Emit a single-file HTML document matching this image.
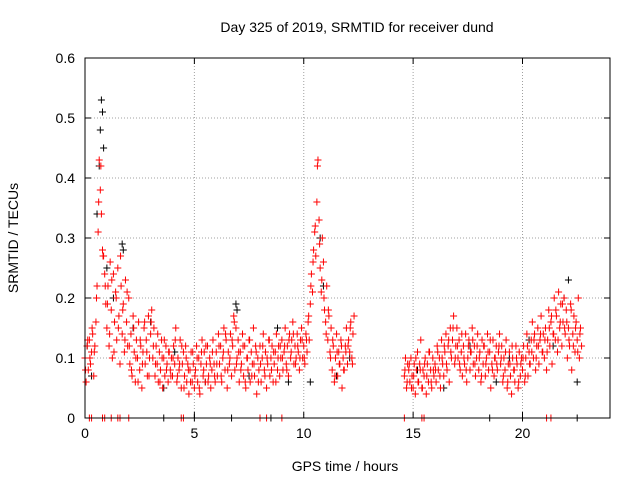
<!DOCTYPE html>
<html><head><meta charset="utf-8"><style>
body{margin:0;background:#fff}
svg{display:block;font-family:"Liberation Sans",sans-serif}
</style></head><body>
<svg id="chart" width="640" height="480" viewBox="0 0 640 480">
<rect x="0" y="0" width="640" height="480" fill="#fff"/>
<text x="357" y="32" font-size="14" text-anchor="middle">Day 325 of 2019, SRMTID for receiver dund</text>
<text x="18" y="238" font-size="14" text-anchor="middle" transform="rotate(-90 18 238)">SRMTID / TECUs</text>
<text x="345" y="471" font-size="14" text-anchor="middle">GPS time / hours</text>
<g id="grid"></g>
<g id="ticks"></g>
<g id="black"></g>
<g id="red"></g>
<rect x="85" y="58" width="525" height="360" fill="none" stroke="#000" stroke-width="1"/>
</svg>
<script>
const xTicks=[0,5,10,15,20];
const yTicks=[0,0.1,0.2,0.3,0.4,0.5,0.6];
const yTickLabels=["0","0.1","0.2","0.3","0.4","0.5","0.6"];
const segAStart=0, segBStart=14.6, stepH=0.05;
const segA2Start=0.025, segB2Start=14.625, step2H=0.1;
const redA=[0.10,0.06,0.12,0.08,0.13,0.09,0.11,0.14,0.07,0.12,
0.16,0.22,0.31,0.43,0.38,0.34,0.28,0.27,0.24,0.19,
0.15,0.22,0.12,0.26,0.18,0.10,0.24,0.16,0.21,0.13,0.25,0.17,0.09,0.22,0.14,0.19,0.11,0.23,0.16,0.12,
0.20,0.09,0.14,0.07,0.17,0.11,0.06,0.13,0.10,0.16,0.08,0.12,0.05,0.11,0.15,0.09,0.13,0.07,0.17,0.10,
0.14,0.18,0.10,0.15,0.07,0.12,0.09,0.06,0.11,0.08,0.13,0.05,0.10,0.07,0.12,0.09,0.06,0.11,0.08,0.10,
0.07,0.12,0.09,0.15,0.06,0.10,0.08,0.13,0.05,0.09,0.11,0.07,0.12,0.06,0.09,0.04,0.08,0.11,0.06,0.09,
0.05,0.08,0.12,0.06,0.10,0.04,0.09,0.13,0.07,0.11,0.06,0.09,0.12,0.07,0.10,0.05,0.08,0.13,0.09,0.06,
0.11,0.07,0.14,0.09,0.12,0.06,0.10,0.15,0.08,0.13,0.05,0.11,0.09,0.14,0.07,0.12,0.17,0.08,0.15,0.10,
0.13,0.06,0.11,0.09,0.14,0.07,0.12,0.05,0.10,0.08,0.13,0.06,0.11,0.09,0.15,0.07,0.12,0.04,0.10,0.08,
0.12,0.06,0.10,0.14,0.08,0.11,0.05,0.09,0.13,0.07,0.10,0.12,0.06,0.09,0.11,0.14,0.08,0.12,0.07,0.10,
0.13,0.08,0.11,0.15,0.09,0.12,0.07,0.14,0.10,0.13,0.16,0.09,0.12,0.10,0.14,0.11,0.08,0.13,0.15,0.10,
0.12,0.09,0.14,0.11,0.16,0.13,0.19,0.24,0.21,0.28,0.31,0.27,0.36,0.43,0.33,0.25,0.21,0.30,0.26,0.18,
0.16,0.22,0.13,0.17,0.11,0.15,0.08,0.12,0.06,0.10,0.14,0.07,0.11,0.09,0.13,0.05,0.10,0.08,0.12,0.15,
0.09,0.13,0.11,0.16,0.10,0.14,0.17];
const redB=[0.07,0.10,0.05,0.09,0.08,0.06,0.10,0.07,
0.05,0.09,0.04,0.08,0.11,0.06,0.09,0.13,0.05,0.08,0.07,0.10,0.04,0.09,0.06,0.11,0.08,0.05,0.10,0.07,
0.09,0.06,0.12,0.08,0.10,0.05,0.13,0.09,0.07,0.11,0.14,0.08,0.12,0.06,0.15,0.10,0.13,0.17,0.09,0.12,
0.15,0.10,0.13,0.08,0.11,0.07,0.12,0.09,0.14,0.06,0.10,0.13,0.08,0.11,0.15,0.09,0.12,0.07,0.10,0.14,
0.08,0.11,0.06,0.13,0.09,0.12,0.07,0.10,0.14,0.08,0.11,0.05,0.09,0.13,0.07,0.10,0.12,0.08,0.11,0.14,
0.09,0.12,0.06,0.10,0.08,0.13,0.05,0.09,0.11,0.07,0.04,0.10,0.08,0.06,0.12,0.09,0.05,0.11,0.07,0.10,
0.08,0.12,0.06,0.10,0.14,0.07,0.11,0.09,0.13,0.16,0.10,0.14,0.08,0.12,0.15,0.09,0.13,0.17,0.11,0.14,
0.10,0.15,0.08,0.13,0.18,0.12,0.16,0.09,0.14,0.20,0.13,0.17,0.11,0.21,0.15,0.19,0.12,0.16,0.20,0.14,
0.18,0.10,0.15,0.12,0.19,0.08,0.14,0.17,0.11,0.16,0.13,0.20,0.10,0.15,0.12];
const redA2=[0.08,0.13,0.10,0.15,0.11,0.20,0.36,0.42,0.27,0.22,
0.19,0.14,0.23,0.11,0.20,0.15,0.27,0.18,0.13,0.21,
0.12,0.08,0.15,0.10,0.06,0.13,0.09,0.16,0.11,0.07,
0.16,0.12,0.09,0.14,0.06,0.10,0.13,0.08,0.11,0.07,
0.10,0.13,0.07,0.09,0.12,0.05,0.10,0.08,0.06,0.11,
0.07,0.10,0.05,0.11,0.08,0.12,0.06,0.09,0.11,0.07,
0.09,0.12,0.07,0.11,0.14,0.08,0.10,0.13,0.16,0.09,
0.11,0.08,0.12,0.06,0.10,0.13,0.07,0.09,0.11,0.06,
0.09,0.12,0.07,0.10,0.13,0.08,0.11,0.06,0.10,0.12,
0.10,0.12,0.08,0.13,0.11,0.14,0.09,0.12,0.10,0.13,
0.10,0.13,0.17,0.22,0.26,0.32,0.42,0.29,0.23,0.20,
0.14,0.18,0.10,0.13,0.07,0.11,0.09,0.12,0.08,0.11,
0.12,0.15,0.09];
const redB2=[0.08,0.06,0.09,0.05,
0.07,0.10,0.06,0.08,0.05,0.09,0.07,0.11,0.06,0.08,
0.08,0.11,0.07,0.10,0.12,0.09,0.13,0.11,0.15,0.10,
0.12,0.09,0.14,0.10,0.08,0.12,0.11,0.13,0.09,0.12,
0.10,0.07,0.12,0.09,0.11,0.13,0.08,0.10,0.09,0.12,
0.10,0.07,0.11,0.06,0.09,0.12,0.08,0.10,0.06,0.09,
0.10,0.07,0.12,0.09,0.11,0.13,0.10,0.12,0.14,0.11,
0.13,0.11,0.15,0.17,0.14,0.18,0.13,0.16,0.19,0.15,
0.16,0.13,0.18,0.12,0.15,0.11,0.14];
const blackT=[0.1,0.3,0.55,0.65,0.7,0.75,0.8,0.85,1.0,1.3,1.7,1.75,2.2,3.0,3.6,4.1,5.5,6.9,6.95,7.5,8.8,9.3,10.3,10.75,10.9,11.5,12.1,15.2,16.4,17.6,18.8,19.4,20.3,21.4,21.9,22.1,22.5];
const blackV=[0.12,0.07,0.34,0.42,0.48,0.53,0.51,0.45,0.25,0.20,0.29,0.28,0.15,0.16,0.05,0.11,0.06,0.19,0.18,0.07,0.15,0.06,0.06,0.30,0.22,0.07,0.10,0.08,0.05,0.12,0.06,0.10,0.13,0.12,0.20,0.23,0.06];
const redZeroT=[0.2,0.3,0.8,0.9,1.2,1.5,1.6,2.0,4.4,4.5,8.0,8.3,9.0,14.6,15.4,15.5,21.1,21.3];
const blackZeroT=[3.6,5.0,6.7,8.5,18.5,20.0,22.5];

const X0=85,X1=610,Y0=418,Y1=58;
const xs=t=>X0+t/24*(X1-X0);
const ys=v=>Y0-v/0.6*(Y0-Y1);
const NS="http://www.w3.org/2000/svg";
function mk(tag,attrs,parent){const e=document.createElementNS(NS,tag);for(const k in attrs)e.setAttribute(k,attrs[k]);parent.appendChild(e);return e;}
const grid=document.getElementById('grid'),ticks=document.getElementById('ticks');
xTicks.forEach(t=>{const x=xs(t);
 if(t>0){const g=mk('line',{x1:x,y1:Y0,x2:x,y2:Y1,stroke:'#a0a0a0','stroke-dasharray':'1,2'},grid);
 
 }
 mk('line',{x1:x,y1:Y0,x2:x,y2:Y0-6,stroke:'#000'},ticks);
 mk('line',{x1:x,y1:Y1,x2:x,y2:Y1+6,stroke:'#000'},ticks);
 const l=mk('text',{x:x,y:Y0+20,'font-size':14,'text-anchor':'middle'},ticks);l.textContent=t;
 
 });
yTicks.forEach((v,i)=>{const y=ys(v);
 if(v>0&&v<0.6){const g=mk('line',{x1:X0,y1:y,x2:X1,y2:y,stroke:'#a0a0a0','stroke-dasharray':'1,2'},grid);
 
 }
 mk('line',{x1:X0,y1:y,x2:X0+6,y2:y,stroke:'#000'},ticks);
 mk('line',{x1:X1,y1:y,x2:X1-6,y2:y,stroke:'#000'},ticks);
 const l=mk('text',{x:X0-10,y:y+5,'font-size':14,'text-anchor':'end'},ticks);l.textContent=yTickLabels[i];
 
 });
function plus(g,t,v,col){const x=xs(t),y=ys(v);
 const p=mk('path',{d:`M${x-3.5},${y}H${x+3.5}M${x},${y-3.5}V${y+3.5}`,stroke:col,'stroke-width':1,fill:'none'},g);
 
 }
const gb=document.getElementById('black'),gr=document.getElementById('red');
blackT.forEach((t,i)=>plus(gb,t,blackV[i],'#000'));
blackZeroT.forEach(t=>plus(gb,t,0,'#000'));
redA.forEach((v,i)=>plus(gr,segAStart+i*stepH,v,'#f00'));
redB.forEach((v,i)=>plus(gr,segBStart+i*stepH,v,'#f00'));
redA2.forEach((v,i)=>plus(gr,segA2Start+i*step2H,v,'#f00'));
redB2.forEach((v,i)=>plus(gr,segB2Start+i*step2H,v,'#f00'));
redZeroT.forEach(t=>plus(gr,t,0,'#f00'));
</script>
</body></html>
